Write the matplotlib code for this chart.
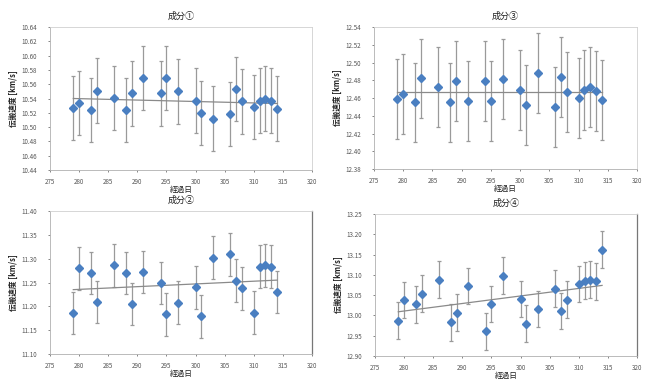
import matplotlib
matplotlib.use("Agg")
import matplotlib.pyplot as plt

plt.rcParams['font.family'] = ['Noto Sans CJK JP', 'DejaVu Sans']

# elapsed days (same for every component)
days = [279, 280, 282, 283, 286, 288, 289, 291, 294, 295, 297,
        300, 301, 303, 306, 307, 308, 310, 311, 312, 313, 314]

# component 1
v1 = [10.527, 10.534, 10.524, 10.551, 10.541, 10.524, 10.547, 10.569, 10.547, 10.569, 10.550,
      10.537, 10.520, 10.512, 10.518, 10.553, 10.536, 10.528, 10.537, 10.540, 10.537, 10.526]
e1 = [0.045] * 22
trend1 = [10.540, 10.533]

# component 3
v3 = [12.459, 12.465, 12.455, 12.482, 12.472, 12.455, 12.479, 12.457, 12.479, 12.457, 12.481,
      12.469, 12.452, 12.488, 12.450, 12.484, 12.467, 12.460, 12.469, 12.472, 12.468, 12.458]
e3 = [0.045] * 22
trend3 = [12.467, 12.467]

# component 2
v2 = [11.186, 11.280, 11.270, 11.209, 11.286, 11.270, 11.205, 11.272, 11.249, 11.183, 11.208,
      11.240, 11.179, 11.302, 11.309, 11.254, 11.238, 11.187, 11.283, 11.286, 11.283, 11.230]
e2 = [0.045] * 22
trend2 = [11.235, 11.255]

# component 4
v4 = [12.987, 13.038, 13.027, 13.054, 13.088, 12.983, 13.007, 13.072, 12.961, 13.028, 13.098,
      13.041, 12.980, 13.016, 13.066, 13.011, 13.039, 13.077, 13.086, 13.088, 13.084, 13.162]
e4 = [0.045] * 22
trend4 = [13.009, 13.074]

trend_x = [279, 314]

panels = [
    ("成分①", v1, e1, trend1, (10.44, 10.64, 0.02)),
    ("成分③", v3, e3, trend3, (12.38, 12.54, 0.02)),
    ("成分②", v2, e2, trend2, (11.10, 11.40, 0.05)),
    ("成分④", v4, e4, trend4, (12.90, 13.25, 0.05)),
]

# axes boxes in pixels (left, bottom, right, top) on a 649x380 canvas
W, H = 649, 380
boxes = [(50, 170, 312, 27), (374, 169, 637, 27),
         (50, 354, 312, 211), (375, 356, 637, 214)]

fig = plt.figure(figsize=(6.49, 3.80), dpi=100)

for i, ((title, vals, errs, trend, (ymin, ymax, step)), (l, b, r, t)) in enumerate(zip(panels, boxes)):
    ax = fig.add_axes([l / W, 1 - b / H, (r - l) / W, (b - t) / H])
    ax.errorbar(days, vals, yerr=errs, fmt='none', ecolor='#9a9a9a',
                elinewidth=0.9, capsize=1.5, capthick=0.9, zorder=2)
    ax.plot(trend_x, trend, color='#8a8a8a', lw=0.9, zorder=3)
    ax.plot(days, vals, 'D', color='#4a7fc1', ms=3.8, mec='#4a7fc1', zorder=4)

    ax.set_xlim(275, 320)
    ax.set_ylim(ymin, ymax)
    ax.set_xticks(range(275, 321, 5))
    n = int(round((ymax - ymin) / step))
    ax.set_yticks([ymin + k * step for k in range(n + 1)])
    ax.yaxis.set_major_formatter(matplotlib.ticker.FormatStrFormatter('%.2f'))
    ax.tick_params(labelsize=4.5, colors='#555555', length=1.5, width=0.5)
    ax.tick_params(axis='y', pad=8)
    ax.tick_params(axis='x', pad=4)

    for s in ax.spines.values():
        s.set_color('#d0d0d0')
        s.set_linewidth(0.6)
    ax.spines['left'].set_color('#b0b0b0')
    ax.spines['bottom'].set_color('#b0b0b0')
    if i >= 2:
        ax.spines['right'].set_color('#777777')
        ax.spines['right'].set_linewidth(0.9)

    ax.set_title(title, fontsize=6.5, pad=6, color='#222222')
    ax.set_ylabel("伝搬速度 [km/s]", fontsize=5.5, labelpad=2, fontweight='bold', color='#222222')
    ax.set_xlabel("経過日", fontsize=5.5, labelpad=0, color='#222222')

plt.savefig("out.png", dpi=100)
